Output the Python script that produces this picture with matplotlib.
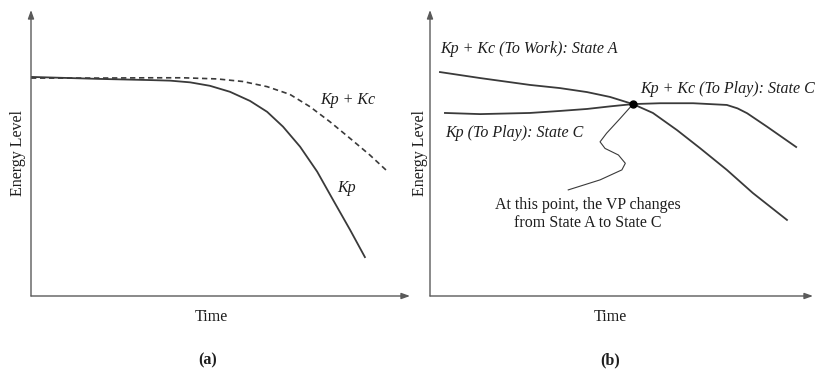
import matplotlib
matplotlib.use("Agg")
import matplotlib.pyplot as plt

plt.rcParams['font.family'] = ['Liberation Serif', 'DejaVu Serif']

# panel (a): time vs energy, arbitrary units 0-100
time_a_kp = [0, 18.2, 31.4, 36.7, 42.0, 47.2, 52.5, 57.8, 62.3, 66.5, 71.0, 75.5, 79.7, 84.2, 88.1]
energy_a_kp = [76.6, 75.9, 75.5, 75.3, 74.7, 73.5, 71.4, 68.2, 64.4, 59.2, 52.2, 43.5, 33.6, 23.1, 13.6]
time_a_kpkc = [0, 18.2, 31.4, 40.1, 49.1, 55.9, 62.3, 68.3, 73.6, 78.9, 84.2, 89.4, 94.2]
energy_a_kpkc = [76.2, 76.2, 76.3, 76.3, 75.9, 75.0, 73.2, 70.5, 66.2, 60.9, 55.1, 49.3, 43.4]

# panel (b)
time_b_work = [2.6, 13.1, 26.1, 33.9, 41.0, 47.0, 53.0, 58.2, 64.5, 70.5, 77.5, 84.3, 93.2]
energy_b_work = [78.3, 76.2, 73.8, 72.7, 71.3, 69.6, 67.1, 64.0, 58.0, 51.7, 44.1, 36.0, 26.6]
time_b_play = [3.9, 13.1, 26.1, 33.9, 41.0, 47.0, 53.0, 60.1, 68.7, 77.5, 80.3, 82.8, 88.0, 95.6]
energy_b_play = [64.0, 63.6, 64.0, 64.7, 65.4, 66.3, 67.1, 67.4, 67.4, 66.8, 65.6, 63.9, 59.2, 52.1]
switch_point = (53.0, 67.1)
# wavy leader line from the switch point to the note
leader_t = [53.0, 49.6, 46.1, 44.4, 45.7, 49.2, 51.0, 50.1, 44.4, 36.1]
leader_e = [67.1, 62.0, 56.9, 53.9, 51.6, 49.3, 46.4, 44.1, 40.6, 37.1]

W, H = 815, 371
fig = plt.figure(figsize=(W / 100, H / 100), dpi=100)
line_col = '#3a3a3a'
axis_col = '#5a5a5a'
txt_col = '#1e1e1e'
fs = 11.5


def make_axes(left_px, width_px):
    ax = fig.add_axes([left_px / W, 75 / H, width_px / W, 286 / H])
    ax.set_xlim(0, 100)
    ax.set_ylim(0, 100)
    ax.axis('off')
    arrow = dict(arrowstyle='-|>,head_length=0.5,head_width=0.18', color=axis_col, lw=1.0,
                 shrinkA=0, shrinkB=0)
    ax.annotate('', xy=(0, 1), xytext=(0, 0), xycoords='axes fraction', arrowprops=arrow)
    ax.annotate('', xy=(1, 0), xytext=(0, 0), xycoords='axes fraction', arrowprops=arrow)
    return ax


ax1 = make_axes(31, 379)
ax1.plot(time_a_kp, energy_a_kp, color=line_col, lw=1.3, solid_joinstyle='round')
ax1.plot(time_a_kpkc, energy_a_kpkc, color=line_col, lw=1.2, dashes=(3.2, 2.2))
ax1.text(76.3, 68.5, 'Kp + Kc', style='italic', fontsize=fs, color=txt_col, va='center')
ax1.text(80.7, 37.8, 'Kp', style='italic', fontsize=fs, color=txt_col, va='center')
ax1.text(-3.4, 50, 'Energy Level', rotation=90, fontsize=fs, color=txt_col, ha='center', va='center')
ax1.text(47.5, -7.3, 'Time', fontsize=fs, color=txt_col, ha='center', va='center')
ax1.text(46.7, -22.4, '(a)', fontsize=fs, fontweight='bold', color=txt_col, ha='center', va='center')

ax2 = make_axes(430, 383)
ax2.plot(time_b_work, energy_b_work, color=line_col, lw=1.3, solid_joinstyle='round')
ax2.plot(time_b_play, energy_b_play, color=line_col, lw=1.3, solid_joinstyle='round')
ax2.plot(leader_t, leader_e, color=line_col, lw=0.8, solid_joinstyle='round')
ax2.plot(*switch_point, 'o', color='black', ms=5, zorder=5)
ax2.text(2.6, 86.4, 'Kp + Kc (To Work): State A', style='italic', fontsize=fs, color=txt_col, va='center')
ax2.text(54.8, 72.4, 'Kp + Kc (To Play): State C', style='italic', fontsize=fs, color=txt_col, va='center')
ax2.text(3.9, 57.0, 'Kp (To Play): State C', style='italic', fontsize=fs, color=txt_col, va='center')
ax2.text(41.3, 31.8, 'At this point, the VP changes', fontsize=fs, color=txt_col, ha='center', va='center')
ax2.text(41.3, 25.5, 'from State A to State C', fontsize=fs, color=txt_col, ha='center', va='center')
ax2.text(-2.6, 50, 'Energy Level', rotation=90, fontsize=fs, color=txt_col, ha='center', va='center')
ax2.text(47.0, -7.3, 'Time', fontsize=fs, color=txt_col, ha='center', va='center')
ax2.text(47.0, -22.4, '(b)', fontsize=fs, fontweight='bold', color=txt_col, ha='center', va='center')

fig.savefig('out.png', dpi=100)
